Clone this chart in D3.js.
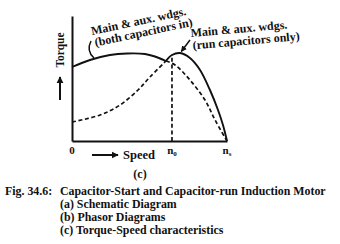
<!DOCTYPE html>
<html>
<head>
<meta charset="utf-8">
<script src="https://cdn.jsdelivr.net/npm/d3@7"></script>
<style>
	body { margin: 0; background: #fff; }
	svg text { font-family: "Liberation Serif", "Times New Roman", serif; font-weight: bold; fill: #111; }
</style>
</head>
<body>
<div id="chart"></div>
<script>
// speed (0..ns = 0..1), torque (relative)
var bothSolid  = [[0,0.74],[0.116,0.81],[0.245,0.86],[0.355,0.875],[0.471,0.87],[0.535,0.845],[0.606,0.80]];
var bothDashed = [[0.606,0.80],[0.665,0.76],[0.761,0.61],[0.858,0.41],[0.923,0.21],[1,0]];
var runDashed  = [[0,0.19],[0.181,0.26],[0.31,0.36],[0.426,0.51],[0.503,0.64],[0.606,0.80]];
var runSolid   = [[0.606,0.80],[0.645,0.86],[0.697,0.88],[0.761,0.83],[0.826,0.71],[0.89,0.51],[0.942,0.31],[0.974,0.16],[1,0]];

var n0 = 0.645;
var xticks = [0, n0, 1];
var xlabels = [["0",""], ["n","0"], ["n","s"]];

var bothLabel = ["Main & aux. wdgs.", "(both capacitors in)"];
var runLabel  = ["Main & aux. wdgs.", "(run capacitors only)"];
var figno = "Fig. 34.6:";
var caption = [
	"Capacitor-Start and Capacitor-run Induction Motor",
	"(a) Schematic Diagram",
	"(b) Phasor Diagrams",
	"(c) Torque-Speed characteristics"
];

const W = 340, H = 244;
const margin = { top: 16, left: 72 };
const width = 155, height = 125;

var svg = d3.select("#chart").append("svg")
	.attr("width", W)
	.attr("height", H);

// pick a font size so that a text gets the wanted width
function fit(sel, target)	{
	var len = sel.node().getComputedTextLength();
	var fs = +sel.attr("font-size");
	return fs * target / len;
}

var defs = svg.append("defs");
defs.append("marker")
	.attr("id", "head")
	.attr("viewBox", "0 0 10 10")
	.attr("refX", 9).attr("refY", 5)
	.attr("markerWidth", 4).attr("markerHeight", 4)
	.attr("orient", "auto")
	.append("path").attr("d", "M0,0L10,5L0,10Z").attr("fill", "#111");
defs.append("marker")
	.attr("id", "bighead")
	.attr("viewBox", "0 0 10 10")
	.attr("refX", 9).attr("refY", 5)
	.attr("markerWidth", 3.6).attr("markerHeight", 3.6)
	.attr("orient", "auto")
	.append("path").attr("d", "M0,0L10,5L0,10Z").attr("fill", "#111");

var g = svg.append("g")
	.attr("transform", `translate(${margin.left},${margin.top})`);

var x = d3.scaleLinear([0, 1], [0, width]);
var y = d3.scaleLinear([0, 1.25], [height, 0]);

var xaxis = d3.axisBottom(x).tickValues([]).tickSizeOuter(0);
var yaxis = d3.axisLeft(y).tickValues([]).tickSizeOuter(0);

g.append("g").attr("class", "xaxis")
	.attr("transform", `translate(0,${height})`)
	.call(xaxis);
g.append("g").attr("class", "yaxis")
	.call(yaxis);
g.selectAll(".domain").attr("stroke", "#111").attr("stroke-width", 2);

var line = d3.line(d => x(d[0]), d => y(d[1])).curve(d3.curveCatmullRom);

[[bothSolid, false], [runSolid, false], [bothDashed, true], [runDashed, true]].forEach(([d, dashed]) => {
	g.append("path")
		.attr("fill", "none")
		.attr("stroke", "#111")
		.attr("stroke-width", dashed ? 1.7 : 1.9)
		.attr("stroke-dasharray", dashed ? "4,2.6" : null)
		.attr("d", line(d));
});

// n0 vertical
g.append("line")
	.attr("x1", x(n0)).attr("x2", x(n0))
	.attr("y1", y(0)).attr("y2", y(0.86))
	.attr("stroke", "#111").attr("stroke-width", 1.7)
	.attr("stroke-dasharray", "4,2.6");

// tick labels
xticks.forEach((v, i) => {
	var t = g.append("text")
		.attr("x", x(v)).attr("y", height + 13)
		.attr("text-anchor", "middle")
		.attr("font-size", 11);
	t.append("tspan").text(xlabels[i][0]);
	if (xlabels[i][1])
		t.append("tspan").attr("font-size", 7).attr("dy", 2).text(xlabels[i][1]);
});

// axis titles
var tq = svg.append("text")
	.attr("transform", "translate(64,50) rotate(-90)")
	.attr("text-anchor", "middle")
	.attr("font-size", 11.5)
	.text("Torque");
tq.attr("font-size", fit(tq, 35));
svg.append("line")
	.attr("x1", 60).attr("x2", 60).attr("y1", 100).attr("y2", 77)
	.attr("stroke", "#111").attr("stroke-width", 2)
	.attr("marker-end", "url(#bighead)");

var sp = svg.append("text")
	.attr("x", 123).attr("y", 159)
	.attr("font-size", 11.5)
	.text("Speed");
sp.attr("font-size", fit(sp, 32));
svg.append("line")
	.attr("x1", 92).attr("x2", 118).attr("y1", 155).attr("y2", 155)
	.attr("stroke", "#111").attr("stroke-width", 2)
	.attr("marker-end", "url(#bighead)");

svg.append("text")
	.attr("x", 140).attr("y", 178)
	.attr("text-anchor", "middle")
	.attr("font-size", 12)
	.text("(c)");

// curve labels
var lb = svg.append("text")
	.attr("transform", "translate(92,35) rotate(-12)")
	.attr("font-size", 11);
var lb1 = lb.append("tspan").attr("x", 0).attr("y", 0).text(bothLabel[0]);
lb.attr("font-size", fit(lb1.attr("font-size", 11), 97));
lb1.attr("font-size", null);
lb.append("tspan").attr("x", 1).attr("y", 12).text(bothLabel[1]);

var lr = svg.append("text")
	.attr("transform", "translate(191,37) rotate(-5)")
	.attr("font-size", 11);
var lr1 = lr.append("tspan").attr("x", 0).attr("y", 0).text(runLabel[0]);
lr.attr("font-size", fit(lr1.attr("font-size", 11), 97));
lr1.attr("font-size", null);
lr.append("tspan").attr("x", 1).attr("y", 12.5).text(runLabel[1]);

// pointers
var pb = [margin.left + x(0.142), margin.top + y(0.82)];
svg.append("path")
	.attr("fill", "none").attr("stroke", "#111").attr("stroke-width", 1.5)
	.attr("d", `M91,41Q86,51 ${pb[0]},${pb[1] - 1}`);

var pr = [margin.left + x(0.705), margin.top + y(0.885)];
svg.append("line")
	.attr("x1", 190).attr("y1", 40).attr("x2", pr[0]).attr("y2", pr[1] - 1)
	.attr("stroke", "#111").attr("stroke-width", 1.5)
	.attr("marker-end", "url(#head)");

// caption
var cap = svg.append("g");
var c0 = cap.append("text").attr("x", 60).attr("y", 195).attr("font-size", 12).text(caption[0]);
var cfs = Math.min(12, fit(c0, 266));
c0.attr("font-size", cfs);
cap.append("text").attr("x", 5).attr("y", 195).attr("font-size", cfs).text(figno);
caption.slice(1).forEach((c, i) => {
	cap.append("text").attr("x", 60).attr("y", 208 + i * 13).attr("font-size", cfs).text(c);
});
</script>
</body>
</html>
